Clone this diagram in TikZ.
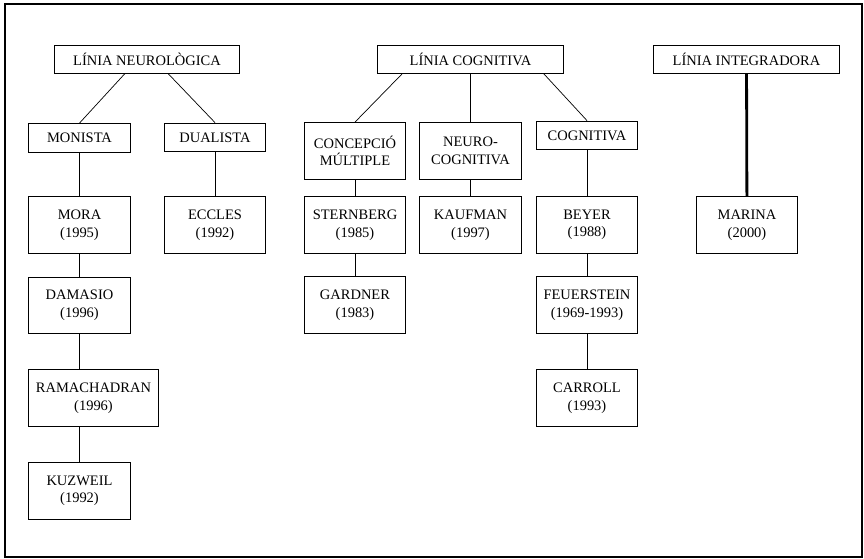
\documentclass[tikz,border=0pt]{standalone}
\usepackage{fontspec}
\setmainfont{Liberation Serif}
\usepackage{tikz}
\usetikzlibrary{positioning,calc}

\tikzset{
  linebox/.style={draw, rectangle, line width=0.7pt, minimum width=4.625cm, minimum height=0.7cm, inner sep=2pt},
  typebox/.style={draw, rectangle, line width=0.7pt, minimum width=2.525cm, minimum height=0.72cm, inner sep=2pt, align=center},
  authbox/.style={draw, rectangle, line width=0.7pt, minimum width=2.525cm, minimum height=1.42cm, inner sep=2pt, align=center},
  link/.style={line width=0.5pt},
}

\begin{document}
\begin{tikzpicture}[x=0.025cm, y=-0.025cm, every node/.style={font=\fontsize{10.3}{12.5}\selectfont}]
  \useasboundingbox (0,0) rectangle (864,559);
  \draw [line width=0.8pt] (5,4) rectangle (862,557);

  % Lines
  \node [linebox] (neuro) at (147,59) {LÍNIA NEUROLÒGICA};
  \node [linebox] (cogn) at (470.5,59) {LÍNIA COGNITIVA};
  \node [linebox] (integ) at (746.5,59) {LÍNIA INTEGRADORA};

  % Types
  \node [typebox] (monista) at (79.5,138) {MONISTA};
  \node [typebox] (dualista) at (215,137.5) {DUALISTA};
  \node [authbox] (multiple) at (355,151) {CONCEPCIÓ\\MÚLTIPLE};
  \node [authbox] (neurocog) at (470.5,151) {NEURO-\\COGNITIVA};
  \node [typebox] (cognitiva) at (587,135.5) {COGNITIVA};

  % Authors
  \node [authbox] (mora) at (79.5,225) {MORA\\(1995)};
  \node [authbox] (eccles) at (215,225) {ECCLES\\(1992)};
  \node [authbox] (sternberg) at (355,225) {STERNBERG\\(1985)};
  \node [authbox] (kaufman) at (470.5,225) {KAUFMAN\\(1997)};
  \node [authbox] (beyer) at (587,225) {BEYER\\(1988)};
  \node [authbox] (marina) at (747,225) {MARINA\\(2000)};
  \node [authbox] (damasio) at (79.5,305.5) {DAMASIO\\(1996)};
  \node [authbox] (gardner) at (355,305) {GARDNER\\(1983)};
  \node [authbox] (feuerstein) at (587,305) {FEUERSTEIN\\(1969-1993)};
  \node [authbox, minimum width=3.225cm] (rama) at (93.5,398) {RAMACHADRAN\\(1996)};
  \node [authbox] (carroll) at (587,398) {CARROLL\\(1993)};
  \node [authbox] (kuzweil) at (79.5,491) {KUZWEIL\\(1992)};

  % Connectors
  \draw [link] ([xshift=-0.55cm]neuro.south) -- (monista.north);
  \draw [link] ([xshift=0.525cm]neuro.south) -- (dualista.north);
  \draw [link] ([xshift=-1.7cm]cogn.south) -- (multiple.north);
  \draw [link] (cogn) -- (neurocog);
  \draw [link] ([xshift=1.825cm]cogn.south) -- (cognitiva.north);
  \draw [line width=2pt] (integ) -- (marina);

  \draw [link] (monista) -- (mora);
  \draw [link] (mora) -- (damasio);
  \draw [link] (damasio.south) -- (damasio.south |- rama.north);
  \draw [link] (kuzweil.north |- rama.south) -- (kuzweil.north);
  \draw [link] (dualista) -- (eccles);
  \draw [link] (multiple) -- (sternberg);
  \draw [link] (sternberg) -- (gardner);
  \draw [link] (neurocog) -- (kaufman);
  \draw [link] (cognitiva) -- (beyer);
  \draw [link] (beyer) -- (feuerstein);
  \draw [link] (feuerstein) -- (carroll);
\end{tikzpicture}
\end{document}
